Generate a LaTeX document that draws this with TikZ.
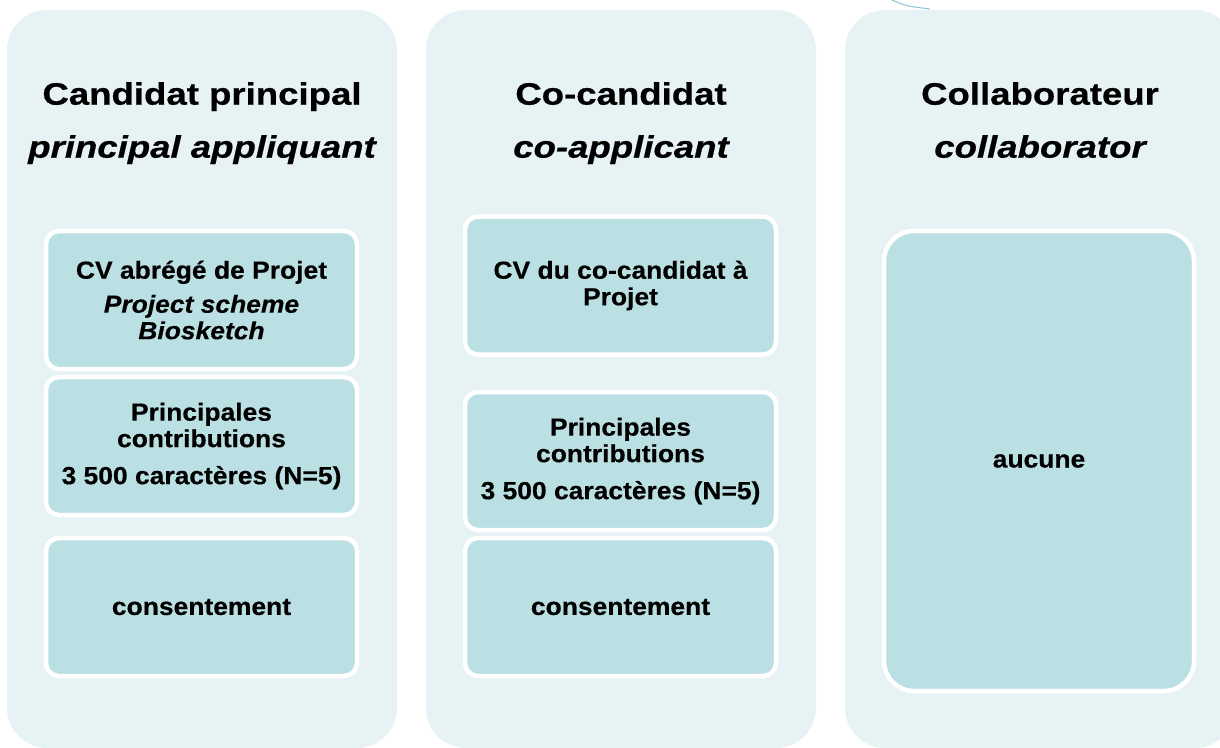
\documentclass[tikz,border=0pt]{standalone}
\usepackage{fontspec}
\setmainfont{Liberation Sans}
\newfontfamily\headfont[FakeStretch=1.18,FakeBold=0.6]{Liberation Sans}
\newfontfamily\cellfont[FakeStretch=1.07,FakeBold=0.4]{Liberation Sans}
\usepackage{tikz}

\definecolor{colbg}{RGB}{230,242,244}
\definecolor{cellbg}{RGB}{187,224,227}
\definecolor{arcblue}{RGB}{140,195,215}

\begin{document}
\begin{tikzpicture}[x=1pt,y=-1pt]

    % --- DEFINE STYLES ---
    % Style for the three column panels
    \tikzstyle{panelbox} = [rectangle, rounded corners=40pt, fill=colbg, minimum width=390pt, minimum height=738pt, inner sep=0pt]
    % Style for the column headings (top aligned, so all three lines up)
    \tikzstyle{headtext} = [align=center, inner sep=0pt, anchor=north, font=\headfont\fontsize{31}{34.5}\selectfont\bfseries]
    % Style for the document boxes
    \tikzstyle{docbox} = [rectangle, rounded corners=13pt, fill=cellbg, draw=white, line width=4.5pt, minimum width=311pt, minimum height=138pt, inner sep=0pt, align=center, font=\cellfont\fontsize{24.7}{26.5}\selectfont\bfseries]
    % Style for the tall box of the last column
    \tikzstyle{bigdocbox} = [docbox, rounded corners=30pt, minimum width=310pt, minimum height=460pt]

    \useasboundingbox (0,0) rectangle (1220,747);

    % Faint arc at the top
    \draw[arcblue, line width=1pt] (892,0) .. controls (906,6) .. (930,9);

    % --- PANELS ---
    \node[panelbox] (pmain) at (202,379) {};
    \node[panelbox] (pco) at (621,379) {};
    \node[panelbox] (pcoll) at (1040,379) {};

    % Headings
    \node[headtext] (hmain) at (202,82) {Candidat principal\\[18.5pt]{\itshape principal appliquant}};
    \node[headtext] (hco) at (621,82) {Co-candidat\\[18.5pt]{\itshape co-applicant}};
    \node[headtext] (hcoll) at (1040,82) {Collaborateur\\[18.5pt]{\itshape collaborator}};

    % 1. Principal applicant
    \node[docbox] (cvmain) at (201.5,300) {CV abrégé de Projet\\[7.5pt]{\itshape Project scheme}\\{\itshape Biosketch}};
    \node[docbox] (contribmain) at (201.5,446) {Principales\\contributions\\[10.5pt]3 500 caractères (N=5)};
    \node[docbox] (consmain) at (201.5,607) {consentement};

    % 2. Co-applicant
    \node[docbox] (cvco) at (620.5,285.5) {CV du co-candidat à\\Projet};
    \node[docbox] (contribco) at (620.5,461) {Principales\\contributions\\[10.5pt]3 500 caractères (N=5)};
    \node[docbox] (consco) at (620.5,607) {consentement};

    % 3. Collaborator
    \node[bigdocbox] (nonecoll) at (1039,461) {aucune};

\end{tikzpicture}
\end{document}
